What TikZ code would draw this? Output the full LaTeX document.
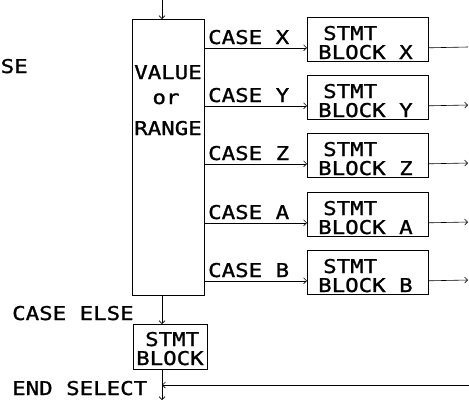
\documentclass[tikz,border=0pt]{standalone}
\usepackage{fontspec}
\newfontfamily\plotfont[FakeStretch=1.18,FakeBold=1.2]{DejaVu Sans Mono}
\usetikzlibrary{arrows.meta}
\begin{document}
\begin{tikzpicture}[x=1pt,y=-1pt,
  font=\plotfont\fontsize{19}{19}\selectfont,
  box/.style={draw, line width=0.8pt, inner sep=0pt, anchor=north west},
  lbl/.style={inner sep=0pt, anchor=base west},
  ctr/.style={inner sep=0pt, anchor=base},
  conn/.style={line width=0.6pt},
  arr/.style={conn, -{Straight Barb[length=3pt,width=6pt]}}]
\useasboundingbox (0,0) rectangle (469,402);

% selector box
\node[box, minimum width=72pt, minimum height=276pt] (sel) at (132,19) {};
\node[ctr] (v1) at (168,79) {VALUE};
\node[ctr] (v2) at (166,104) {or};
\node[ctr] (v3) at (168,135) {RANGE};

% entry arrow
\coordinate (entry) at (162,0);
\draw[arr] (entry) -- (entry |- sel.north);

% cases
\foreach \n/\t/\s in {X/17/conn, Y/75/arr, Z/133/arr, A/192/arr, B/250/arr} {
  \node[box, minimum width=121pt, minimum height=44pt] (b\n) at (307,\t) {};
  \node[lbl] (s\n) at (323,\t+23) {STMT};
  \node[lbl] (k\n) at (318,\t+42) {BLOCK \n};
  \node[lbl] (c\n) at (208,\t+27) {CASE \n};
  \coordinate (in\n) at ([yshift=14pt]b\n.south west);
  \coordinate (out\n) at (468,\t+30);
  \draw[arr] (sel.east |- in\n) -- (in\n);
  \draw[\s] (b\n.east |- in\n) -- (out\n);
}

% case else
\node[lbl] (celse) at (12,320) {CASE ELSE};
\node[box, minimum width=74pt, minimum height=45pt] (els) at (133,324) {};
\node[lbl] (es) at (145,346) {STMT};
\node[lbl] (eb) at (136,365) {BLOCK};
\draw[arr] (sel.south -| entry) -- (els.north -| entry);

% end select
\node[lbl] (endsel) at (12,395) {END SELECT};
\coordinate (exit) at (162,400);
\draw[arr] (els.south -| entry) -- (exit);
\coordinate (ret) at (469,385);
\draw[arr] (ret) -- (ret -| entry);

% title fragment at left
\node[lbl] (se) at (0.5,73) {SE};
\end{tikzpicture}
\end{document}
